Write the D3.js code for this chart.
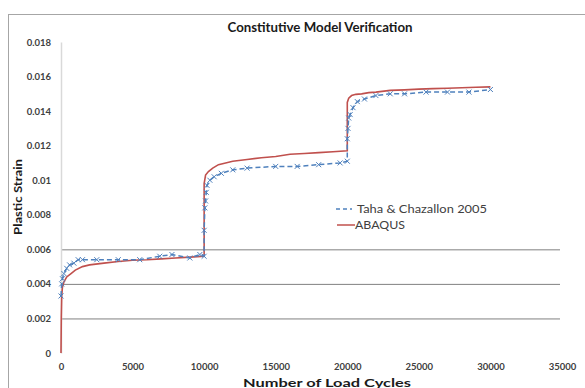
<!DOCTYPE html>
<html>
<head>
<meta charset="utf-8">
<script src="https://cdn.jsdelivr.net/npm/d3@7"></script>
<style>
  body { margin: 0; background: #fff; }
  text { font-family: Lato, "Liberation Sans", Arial, sans-serif; }
</style>
</head>
<body>
<svg id="chart" width="585" height="388"></svg>
<script>
// tick values
var xTicks = [0, 5000, 10000, 15000, 20000, 25000, 30000, 35000];
var yTicks = [0, 0.002, 0.004, 0.006, 0.008, 0.01, 0.012, 0.014, 0.016, 0.018];
var gridTicks = [0.002, 0.004, 0.006];

// ABAQUS (red line)
var abaqusX = [0, 20, 50, 100, 200, 400, 700, 1000, 1500, 2000, 3000, 4000, 5000, 6000, 7000, 8000, 9000, 10000,
  10000, 10100, 10300, 10600, 11000, 11500, 12000, 13000, 14000, 15000, 16000, 17000, 18000, 19000, 20000,
  20000, 20100, 20300, 20600, 21000, 21500, 22000, 23000, 24000, 25000, 26000, 27000, 28000, 29000, 30000];
var abaqusY = [0, 0.002, 0.0033, 0.0038, 0.0041, 0.0044, 0.0046, 0.0048, 0.0050, 0.0051, 0.0052, 0.0053, 0.00537, 0.0054, 0.00545, 0.0055, 0.00555, 0.0056,
  0.0098, 0.0103, 0.0105, 0.0107, 0.0109, 0.0110, 0.0111, 0.0112, 0.0113, 0.01137, 0.0115, 0.01155, 0.0116, 0.01165, 0.0117,
  0.0145, 0.01475, 0.0149, 0.01497, 0.0150, 0.01507, 0.0151, 0.0152, 0.01523, 0.01527, 0.0153, 0.01532, 0.01535, 0.01538, 0.0154];

// Taha & Chazallon 2005 (blue dashed with x markers)
var tahaX = [0, 50, 100, 200, 400, 600, 900, 1200, 1500, 2500, 4000, 5500, 6900, 7750, 9000, 9700, 10000,
  10000, 10050, 10100, 10150, 10200, 10400, 10700, 11200, 12000, 13000, 15000, 16500, 18000, 19500, 20000,
  20000, 20050, 20100, 20200, 20400, 20700, 21200, 22000, 23000, 24000, 25500, 27000, 28500, 30000];
var tahaY = [0.0033, 0.0040, 0.0043, 0.0046, 0.0049, 0.0051, 0.0052, 0.0054, 0.0054, 0.0054, 0.0054, 0.0054, 0.0056, 0.0057, 0.0055, 0.0057, 0.0056,
  0.0071, 0.0084, 0.0088, 0.0093, 0.0097, 0.0100, 0.0102, 0.0104, 0.0106, 0.0107, 0.0108, 0.0108, 0.0109, 0.0110, 0.0111,
  0.0124, 0.0130, 0.0136, 0.0138, 0.0142, 0.01455, 0.0147, 0.0149, 0.0150, 0.0150, 0.0151, 0.0151, 0.0151, 0.01525];

var svg = d3.select("#chart");

// chart border
svg.append("rect")
   .attr("x", 8.5).attr("y", 14.5)
   .attr("width", 620).attr("height", 420)
   .attr("fill", "none")
   .attr("stroke", "#a6a6a6");

var xScale = d3.scaleLinear().domain([0, 35000]).range([61, 562]);
var yScale = d3.scaleLinear().domain([0, 0.018]).range([353, 42]);

// grid lines (only the lower three are drawn in the source)
svg.selectAll(".grid")
   .data(gridTicks)
   .enter().append("line")
   .attr("x1", xScale(0)).attr("x2", 560)
   .attr("y1", function(d) { return yScale(d) + 0.5; })
   .attr("y2", function(d) { return yScale(d) + 0.5; })
   .attr("stroke", "#808080")
   .attr("stroke-width", 1);

// y axis
var yAxis = svg.append("g")
   .attr("transform", "translate(" + xScale(0) + ",0)")
   .call(d3.axisLeft(yScale).tickValues(yTicks).tickSize(0).tickPadding(10)
     .tickFormat(function(d) { return d === 0 ? "0" : String(+d.toFixed(3)); }));
yAxis.select(".domain").attr("stroke", "#d9d9d9").attr("stroke-width", 1.5);
yAxis.selectAll("text")
   .attr("font-size", "9.5px").attr("font-weight", "bold").attr("fill", "#404040")
   .attr("font-family", "Lato, Liberation Sans, Arial, sans-serif");

// x axis
var xAxis = svg.append("g")
   .attr("transform", "translate(0," + (yScale(0) + 6) + ")")
   .call(d3.axisBottom(xScale).tickValues(xTicks).tickSize(0).tickPadding(4)
     .tickFormat(d3.format("d")));
xAxis.select(".domain").remove();
xAxis.selectAll("text")
   .attr("font-size", "9.5px").attr("font-weight", "bold").attr("fill", "#404040")
   .attr("font-family", "Lato, Liberation Sans, Arial, sans-serif");

// lines
var line = d3.line()
   .x(function(d) { return xScale(d[0]); })
   .y(function(d) { return yScale(d[1]); });

var abaqus = d3.zip(abaqusX, abaqusY);
var taha = d3.zip(tahaX, tahaY);

svg.append("path")
   .datum(abaqus)
   .attr("d", line)
   .attr("fill", "none")
   .attr("stroke", "#c0504d")
   .attr("stroke-width", 1.6);

svg.append("path")
   .datum(taha)
   .attr("d", line)
   .attr("fill", "none")
   .attr("stroke", "#4f81bd")
   .attr("stroke-width", 1.5)
   .attr("stroke-dasharray", "5,3");

// x markers
svg.selectAll(".mark")
   .data(taha)
   .enter().append("path")
   .attr("transform", function(d) { return "translate(" + xScale(d[0]) + "," + yScale(d[1]) + ")"; })
   .attr("d", "M-2.5,-2.5L2.5,2.5M-2.5,2.5L2.5,-2.5")
   .attr("stroke", "#4f81bd")
   .attr("stroke-width", 1)
   .attr("fill", "none");

// title
svg.append("text")
   .attr("x", 320).attr("y", 32)
   .attr("text-anchor", "middle")
   .attr("font-size", "12.5px").attr("font-weight", "bold")
   .attr("fill", "#1a1a1a")
   .attr("textLength", 185).attr("lengthAdjust", "spacingAndGlyphs")
   .text("Constitutive Model Verification");

// axis titles
svg.append("text")
   .attr("x", 327).attr("y", 387)
   .attr("text-anchor", "middle")
   .attr("font-size", "11.5px").attr("font-weight", "bold")
   .attr("fill", "#1a1a1a")
   .attr("textLength", 168).attr("lengthAdjust", "spacingAndGlyphs")
   .text("Number of Load Cycles");

svg.append("text")
   .attr("transform", "translate(22,197) rotate(-90)")
   .attr("text-anchor", "middle")
   .attr("font-size", "11.5px").attr("font-weight", "bold")
   .attr("fill", "#1a1a1a")
   .attr("textLength", 76).attr("lengthAdjust", "spacingAndGlyphs")
   .text("Plastic Strain");

// legend
var legend = svg.append("g");
legend.append("line")
   .attr("x1", 336).attr("x2", 352).attr("y1", 209).attr("y2", 209)
   .attr("stroke", "#4f81bd").attr("stroke-width", 1.5).attr("stroke-dasharray", "4,3");
legend.append("text")
   .attr("x", 357).attr("y", 213)
   .attr("font-size", "11.5px").attr("fill", "#404040")
   .attr("textLength", 130).attr("lengthAdjust", "spacingAndGlyphs")
   .text("Taha & Chazallon 2005");
legend.append("line")
   .attr("x1", 337).attr("x2", 355).attr("y1", 225).attr("y2", 225)
   .attr("stroke", "#c0504d").attr("stroke-width", 1.5);
legend.append("text")
   .attr("x", 355).attr("y", 229)
   .attr("font-size", "11.5px").attr("fill", "#404040")
   .attr("textLength", 50).attr("lengthAdjust", "spacingAndGlyphs")
   .text("ABAQUS");
</script>
</body>
</html>
